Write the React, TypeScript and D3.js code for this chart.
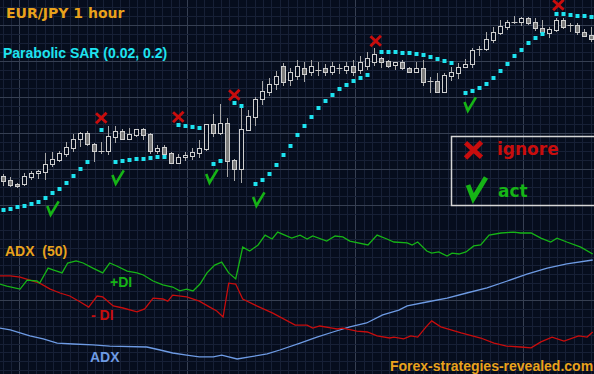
import React from "react";
import * as d3 from "d3";

const W = 594;
const H = 374;

// ---- Price panel (EUR/JPY, 1 hour bars) ----
const opens = [
  158.74, 158.70, 158.66, 158.66, 158.73, 158.77, 158.78, 158.86, 158.90, 158.96,
  159.02, 159.11, 159.17, 159.06, 158.99, 158.99, 159.13, 159.19, 159.11, 159.15,
  159.21, 159.16, 158.99, 159.03, 158.97, 158.87, 158.93, 158.94, 158.97, 159.01,
  159.26, 159.17, 159.27, 158.90, 158.81, 159.20, 159.33, 159.51, 159.58, 159.66,
  159.84, 159.70, 159.74, 159.82, 159.78, 159.80, 159.82, 159.78, 159.82, 159.80,
  159.84, 159.80, 159.84, 159.88, 159.92, 159.89, 159.85, 159.88, 159.82, 159.78,
  159.82, 159.69, 159.69, 159.58, 159.74, 159.77, 159.83, 159.86, 160.01, 160.01,
  160.10, 160.17, 160.23, 160.28, 160.28, 160.32, 160.28, 160.22, 160.17, 160.20,
  160.30, 160.25, 160.25, 160.18, 160.15,
];
const highs = [
  158.76, 158.73, 158.67, 158.77, 158.79, 158.80, 158.97, 158.98, 158.99, 159.08,
  159.16, 159.18, 159.19, 159.07, 159.08, 159.24, 159.24, 159.21, 159.22, 159.21,
  159.22, 159.17, 159.05, 159.05, 158.98, 158.96, 158.98, 159.02, 159.10, 159.26,
  159.36, 159.46, 159.32, 158.91, 159.43, 159.40, 159.53, 159.69, 159.72, 159.79,
  159.87, 159.82, 159.90, 159.88, 159.90, 159.88, 159.86, 159.88, 159.86, 159.88,
  159.90, 159.94, 159.98, 160.02, 159.93, 159.90, 159.88, 159.90, 159.83, 159.88,
  159.90, 159.73, 159.77, 159.77, 159.83, 159.87, 159.91, 160.02, 160.04, 160.18,
  160.23, 160.30, 160.30, 160.34, 160.33, 160.33, 160.32, 160.30, 160.23, 160.32,
  160.32, 160.27, 160.27, 160.21, 160.23,
];
const lows = [
  158.64, 158.63, 158.62, 158.64, 158.70, 158.71, 158.70, 158.83, 158.88, 158.93,
  158.98, 159.03, 159.04, 158.88, 158.96, 158.95, 159.07, 159.10, 159.11, 159.13,
  159.10, 158.96, 158.96, 158.95, 158.86, 158.86, 158.89, 158.90, 158.92, 158.99,
  159.13, 159.15, 158.73, 158.69, 158.67, 159.19, 159.24, 159.45, 159.54, 159.60,
  159.64, 159.64, 159.70, 159.68, 159.74, 159.74, 159.74, 159.75, 159.76, 159.76,
  159.74, 159.76, 159.80, 159.84, 159.82, 159.82, 159.80, 159.80, 159.77, 159.78,
  159.64, 159.57, 159.57, 159.57, 159.69, 159.71, 159.82, 159.82, 159.94, 159.99,
  160.07, 160.15, 160.20, 160.26, 160.24, 160.25, 160.19, 160.17, 160.12, 160.18,
  160.21, 160.18, 160.15, 160.13, 160.08,
];
const closes = [
  158.69, 158.65, 158.64, 158.74, 158.77, 158.79, 158.86, 158.91, 158.97, 159.03,
  159.11, 159.17, 159.06, 158.99, 158.99, 159.14, 159.19, 159.11, 159.16, 159.21,
  159.15, 158.99, 159.02, 158.96, 158.87, 158.93, 158.95, 158.98, 159.02, 159.26,
  159.17, 159.27, 158.89, 158.81, 159.21, 159.34, 159.51, 159.59, 159.66, 159.74,
  159.68, 159.78, 159.84, 159.76, 159.84, 159.80, 159.78, 159.84, 159.82, 159.84,
  159.78, 159.88, 159.92, 159.96, 159.88, 159.84, 159.88, 159.82, 159.78, 159.82,
  159.68, 159.69, 159.58, 159.75, 159.78, 159.83, 159.86, 160.00, 160.01, 160.11,
  160.18, 160.24, 160.28, 160.28, 160.32, 160.27, 160.22, 160.18, 160.21, 160.30,
  160.23, 160.25, 160.18, 160.14, 160.11,
];
// Parabolic SAR (0.02, 0.2); null = no dot drawn
const sar: (number | null)[] = [
  158.40, 158.41, 158.43, 158.44, 158.46, 158.48, 158.52, 158.57, 158.61, 158.67,
  158.74, 158.81, 158.88, null, 159.20, null, 158.88, 158.89, 158.90, 158.91,
  158.91, 158.92, 158.93, 158.93, null, 159.25, 159.24, 159.23, 159.22, null,
  158.86, 158.89, null, 159.47, 159.44, null, 158.66, 158.70, 158.76, 158.85,
  158.95, 159.04, 159.15, 159.24, 159.33, 159.42, 159.49, 159.55, 159.61, 159.65,
  159.69, 159.72, 159.75, null, 159.98, 159.98, 159.98, 159.97, 159.97, 159.96,
  159.95, 159.93, 159.91, 159.89, 159.87, null, 159.57, 159.59, 159.62, 159.66,
  159.72, 159.79, 159.86, 159.94, 160.00, 160.07, 160.12, 160.16, null, 160.36,
  160.36, 160.35, 160.34, 160.34, 160.33,
];
const ignoreBars = [14, 25, 33, 53.2, 79.3];
const ignorePrices = [159.32, 159.33, 159.55, 160.09, 160.45];
const actBars = [7.1, 16.4, 29.8, 36.5, 66.7];
const actPrices = [158.42, 158.73, 158.74, 158.51, 159.46];

// ---- ADX (50) panel ----
const plusDiBars = [
  -0.5, 0.5, 2.4, 3.4, 4.8, 5.2, 6.4, 7.1, 8.4, 9.2,
  10.4, 11.4, 12.8, 14.2, 15.2, 16.2, 17.7, 19.1, 20.0, 21.4,
  22.8, 24.2, 25.2, 26.2, 27.1, 28.1, 29.1, 30.2, 31.2, 32.2,
  33.2, 33.8, 34.2, 35.2, 36.4, 37.4, 38.4, 39.2, 41.2, 42.4,
  43.4, 44.2, 46.2, 47.4, 48.5, 49.5, 52.1, 53.4, 54.8, 55.8,
  57.7, 58.4, 59.2, 60.5, 61.2, 62.2, 63.4, 64.1, 65.1, 66.1,
  67.2, 68.2, 69.4, 71.1, 72.9, 73.9, 75.4, 76.8, 78.2, 79.1,
  80.5, 82.5, 84.2,
];
const plusDiVals = [
  32.0, 31.3, 30.3, 33.3, 33.0, 32.3, 37.3, 36.7, 35.7, 39.0,
  39.7, 39.0, 37.3, 35.7, 39.0, 38.0, 36.3, 35.7, 35.0, 33.0,
  31.7, 31.0, 29.7, 30.3, 29.7, 32.0, 35.7, 38.3, 39.3, 35.7,
  33.7, 40.0, 44.3, 43.0, 45.0, 48.3, 47.0, 49.3, 47.3, 48.3,
  47.0, 48.0, 46.3, 48.0, 47.7, 46.3, 45.0, 48.3, 47.0, 46.0,
  45.7, 45.0, 46.0, 43.0, 42.3, 42.7, 41.3, 42.3, 42.0, 42.7,
  44.7, 45.0, 48.3, 49.0, 49.3, 49.0, 49.0, 47.3, 46.0, 47.3,
  46.0, 44.3, 42.0,
];
const minusDiBars = [
  -0.5, 1.0, 2.4, 3.8, 5.2, 6.7, 8.1, 9.5, 11.0, 12.2,
  13.4, 14.2, 15.7, 17.1, 19.1, 20.2, 21.4, 22.8, 23.5, 24.2,
  26.2, 28.0, 29.5, 30.5, 31.4, 32.2, 33.2, 34.2, 36.2, 38.5,
  41.7, 43.4, 44.2, 45.2, 47.0, 47.7, 48.5, 50.5, 52.0, 53.4,
  55.2, 55.8, 57.2, 58.2, 59.2, 60.4, 61.2, 62.5, 65.4, 68.2,
  70.1, 71.9, 73.9, 75.4, 76.8, 78.4, 80.1, 82.2, 83.4, 84.2,
];
const minusDiVals = [
  34.7, 34.7, 34.3, 33.3, 32.3, 30.3, 29.0, 28.0, 26.0, 24.3,
  28.0, 27.7, 24.7, 24.0, 22.7, 23.7, 27.3, 27.0, 26.3, 28.3,
  27.7, 26.3, 24.3, 23.0, 21.0, 32.3, 32.0, 27.0, 24.7, 22.3,
  18.3, 18.3, 17.3, 18.0, 17.3, 17.0, 17.3, 16.3, 16.0, 14.7,
  14.0, 14.3, 13.7, 14.7, 14.3, 17.7, 19.7, 17.7, 15.7, 14.0,
  12.3, 11.3, 11.0, 10.7, 12.7, 14.3, 13.0, 14.7, 14.3, 16.0,
];
const adxBars = [
  -0.5, 1.0, 2.4, 3.8, 5.7, 7.7, 10.0, 12.8, 15.2, 20.5,
  22.4, 24.2, 26.2, 28.0, 30.0, 31.2, 33.4, 35.2, 37.7, 39.5,
  42.4, 44.8, 47.1, 49.5, 51.9, 54.2, 56.5, 57.7, 60.5, 63.4,
  66.2, 69.1, 72.0, 74.8, 77.7, 80.5, 84.2,
];
const adxVals = [
  17.3, 16.7, 15.7, 14.7, 13.7, 12.3, 12.0, 11.7, 11.3, 11.0,
  10.0, 9.0, 8.3, 7.7, 7.7, 8.3, 7.0, 7.7, 8.7, 10.0,
  12.3, 14.3, 16.0, 17.7, 19.0, 21.7, 23.3, 24.7, 26.0, 27.3,
  29.0, 30.7, 33.0, 35.3, 37.3, 38.7, 40.0,
];

const BG = "#060d1d";
const MINOR = "#172036";
const MAJOR = "#363f52";
const ORANGE = "#e9a21c";
const CYAN = "#1ee3f0";
const GREEN = "#16b416";
const RED = "#c80d0d";
const BLUE = "#6e9be4";
const ARIAL = "'Liberation Sans', Arial, sans-serif";
const VERDANA = "'DejaVu Sans', Verdana, sans-serif";

function XMark({ cx, cy, s, w }: { cx: number; cy: number; s: number; w: number }) {
  return (
    <g transform={`translate(${cx},${cy}) scale(${s})`}>
      <path d="M-5,-4.5 L5,4.5 M5,-5 Q1,-1 -5,5" fill="none" stroke={RED} strokeWidth={w} />
    </g>
  );
}
function Check({ cx, cy, s, w }: { cx: number; cy: number; s: number; w: number }) {
  return (
    <g transform={`translate(${cx},${cy}) scale(${s})`}>
      <path d="M-6,-2 L-2.5,7 L6,-7" fill="none" stroke={GREEN} strokeWidth={w} strokeLinejoin="miter" />
    </g>
  );
}

export default function App() {
  const x = d3.scaleLinear().domain([0, 84]).range([3.3, 591.3]);
  const yP = d3.scaleLinear().domain([158, 160.5]).range([250, 0]);
  const yI = d3.scaleLinear().domain([0, 60]).range([380, 200]);

  const vMinor = d3.range(-2, 71).map((k) => ({ k, v: 19.3 + 8.4 * k })).filter((d) => d.v >= 0 && d.v <= W);
  const hTop = d3.range(-2, 22).map((k) => ({ k, v: 25 + 9 * k }));
  const hLow = d3.range(-8, 9).map((k) => ({ k, v: 300 + 8.7 * k }));

  const line = (bars: number[], vals: number[]) =>
    d3.line<number>().x((_, i) => x(bars[i])).y((v) => yI(v))(vals) || "";

  const px = (v: number) => Math.round(v) + 0.5;

  return (
    <svg width={W} height={H} style={{ position: "fixed", left: 0, top: 0, display: "block" }}>
      <rect width={W} height={H} fill={BG} />
      {/* grid */}
      {vMinor.map((d) => (
        <line key={"v" + d.k} x1={px(d.v)} x2={px(d.v)} y1={0} y2={H} stroke={d.k % 20 === 0 ? MAJOR : MINOR} strokeWidth={1} />
      ))}
      {hTop.map((d) => (
        <line key={"ht" + d.k} x1={0} x2={W} y1={px(d.v)} y2={px(d.v)} stroke={d.k % 4 === 0 ? MAJOR : MINOR} strokeWidth={1} />
      ))}
      {hLow.map((d) => (
        <line key={"hl" + d.k} x1={0} x2={W} y1={px(d.v)} y2={px(d.v)} stroke={d.k === 0 ? MAJOR : MINOR} strokeWidth={1} />
      ))}

      {/* candles */}
      {opens.map((o, i) => {
        const c = closes[i];
        const cx = Math.round(x(i)) + 0.5;
        const yt = Math.round(yP(Math.max(o, c)));
        const yb = Math.round(yP(Math.min(o, c)));
        const bull = c > o;
        return (
          <g key={"c" + i}>
            <line x1={cx} x2={cx} y1={Math.round(yP(highs[i]))} y2={Math.round(yP(lows[i]))} stroke="#a8a8a8" strokeWidth={1} />
            {yb - yt < 1 ? (
              <line x1={cx - 3} x2={cx + 3} y1={yt + 0.5} y2={yt + 0.5} stroke="#c8c8c8" strokeWidth={1} />
            ) : (
              <rect x={cx - 2} y={yt + 0.5} width={4} height={yb - yt} fill={bull ? BG : "#7c7c7c"} stroke="#cfcfcf" strokeWidth={1} />
            )}
          </g>
        );
      })}

      {/* SAR dots */}
      {sar.map((s, i) =>
        s === null ? null : (
          <rect key={"s" + i} x={Math.round(x(i)) - 1.5} y={Math.round(yP(s)) - 2} width={4} height={4} fill={CYAN} />
        )
      )}

      {/* signals */}
      {ignoreBars.map((b, i) => (
        <XMark key={"x" + i} cx={x(b)} cy={yP(ignorePrices[i])} s={1.05} w={2.8} />
      ))}
      {actBars.map((b, i) => (
        <Check key={"k" + i} cx={x(b)} cy={yP(actPrices[i])} s={0.95} w={2.8} />
      ))}

      {/* legend */}
      <rect x={451.5} y={136.5} width={150} height={69} fill="none" stroke="#d6d6d6" strokeWidth={1.5} />
      <XMark cx={473.5} cy={150} s={1.6} w={3} />
      <text x={497} y={155} fill={RED} fontFamily={VERDANA} fontWeight="bold" fontSize={17}>ignore</text>
      <Check cx={477} cy={188} s={1.5} w={3.2} />
      <text x={498} y={197} fill={GREEN} fontFamily={VERDANA} fontWeight="bold" fontSize={17}>act</text>

      {/* indicator lines */}
      <path d={line(adxBars, adxVals)} fill="none" stroke={BLUE} strokeWidth={1.3} />
      <path d={line(minusDiBars, minusDiVals)} fill="none" stroke={RED} strokeWidth={1.3} />
      <path d={line(plusDiBars, plusDiVals)} fill="none" stroke={GREEN} strokeWidth={1.3} />

      {/* labels */}
      <text x={6} y={18} fill={ORANGE} fontFamily={VERDANA} fontWeight="bold" fontSize={14}>EUR/JPY 1 hour</text>
      <text x={3} y={58} fill={CYAN} fontFamily={ARIAL} fontWeight="bold" fontSize={14}>Parabolic SAR (0.02, 0.2)</text>
      <text x={5} y={256} fill={ORANGE} fontFamily={ARIAL} fontWeight="bold" fontSize={14} style={{ whiteSpace: "pre" }}>{"ADX  (50)"}</text>
      <text x={110} y={287} fill={GREEN} fontFamily={ARIAL} fontWeight="bold" fontSize={14}>+DI</text>
      <text x={91} y={320} fill={RED} fontFamily={ARIAL} fontWeight="bold" fontSize={14} style={{ whiteSpace: "pre" }}>{"- DI"}</text>
      <text x={90} y={362} fill={BLUE} fontFamily={ARIAL} fontWeight="bold" fontSize={14}>ADX</text>
      <text x={390} y={371} fill={ORANGE} fontFamily={ARIAL} fontWeight="bold" fontSize={14}>Forex-strategies-revealed.com</text>
    </svg>
  );
}
